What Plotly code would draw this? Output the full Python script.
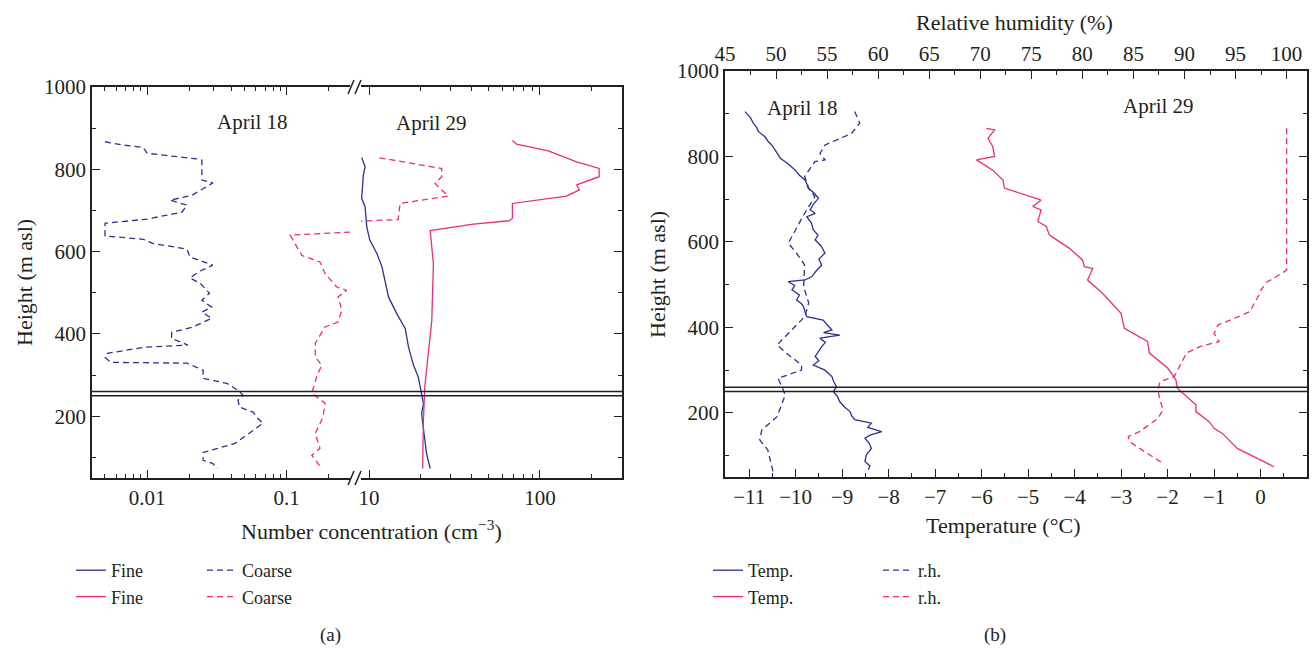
import plotly.graph_objects as go

# ---------------- data ----------------
# Panel (a): number concentration profiles (height in m asl)
coarse18_h = [867, 859, 853, 839, 825, 822, 774, 767, 737, 725, 713, 696, 679, 669, 638, 630, 620, 606,
              587, 567, 553, 536, 523, 499, 482, 465, 453, 438, 416, 404, 389, 373, 368, 353, 343, 331,
              329, 312, 292, 280, 263, 251, 239, 222, 210, 195, 183, 158, 134, 112, 93, 85, 73]
coarse18_v = [0.0050, 0.0067, 0.0094, 0.0100, 0.0230, 0.0247, 0.0247, 0.0296, 0.0210, 0.0146, 0.0193,
              0.0178, 0.0100, 0.0050, 0.0050, 0.0094, 0.0110, 0.0193, 0.0203, 0.0296, 0.0240, 0.0203,
              0.0240, 0.0280, 0.0247, 0.0290, 0.0247, 0.0290, 0.0210, 0.0150, 0.0150, 0.0196, 0.0097,
              0.0052, 0.0050, 0.0055, 0.0193, 0.0252, 0.0252, 0.0373, 0.0448, 0.0487, 0.0448, 0.0460,
              0.0574, 0.0620, 0.0676, 0.0530, 0.0426, 0.0252, 0.0252, 0.0296, 0.0320]

coarse29_h = [828, 802, 782, 766, 754, 735, 719, 717, 678, 640, 591, 575, 547, 514, 506, 490, 458, 429,
              417, 377, 344, 324, 296, 256, 232, 198, 158, 122, 105, 73]
coarse29_v = [11.5, 26.6, 26.6, 24.3, 26.0, 29.1, 16.2, 15.2, 14.8, 0.106, 0.128, 0.173, 0.188, 0.228,
              0.269, 0.233, 0.248, 0.233, 0.188, 0.160, 0.160, 0.178, 0.164, 0.151, 0.188, 0.182, 0.160,
              0.173, 0.151, 0.178]

fine18_h = [829, 806, 786, 729, 709, 660, 628, 596, 563, 531, 490, 450, 413, 369, 324, 296, 255, 231,
            206, 142, 109, 73]
fine18_v = [9.06, 9.48, 9.26, 9.06, 9.48, 9.70, 10.1, 11.1, 11.9, 12.4, 13.0, 14.5, 16.3, 17.0, 18.2,
            19.4, 20.3, 20.8, 20.3, 21.2, 21.7, 22.8]

fine29_h = [870, 861, 845, 818, 802, 782, 762, 750, 735, 717, 681, 675, 667, 651, 571, 433, 352, 271,
            190, 73]
fine29_v = [69, 73, 112, 164, 222, 222, 164, 170, 143, 69, 69, 66, 40.8, 22.8, 23.8, 23.3, 22.2, 21.2,
            20.8, 20.6]

# Panel (b): temperature and relative humidity profiles
temp18_h = [905, 892, 878, 868, 858, 846, 835, 825, 815, 805, 796, 782, 768, 756, 745, 736, 726, 714,
            702, 688, 675, 667, 659, 644, 628, 616, 605, 590, 574, 560, 546, 532, 519, 511, 507, 498,
            488, 476, 464, 456, 449, 437, 425, 417, 405, 394, 388, 382, 375, 365, 355, 343, 332, 322,
            312, 300, 285, 273, 261, 250, 238, 226, 214, 203, 194, 184, 176, 166, 156, 148, 141, 129,
            117, 102, 86, 76, 67]
temp18_v = [-11.09, -10.98, -10.91, -10.84, -10.80, -10.66, -10.59, -10.50, -10.44, -10.38, -10.33,
            -10.15, -10.01, -9.92, -9.80, -9.76, -9.73, -9.60, -9.51, -9.62, -9.69, -9.58, -9.76, -9.66,
            -9.62, -9.52, -9.58, -9.45, -9.37, -9.50, -9.44, -9.56, -9.65, -9.80, -10.16, -10.02, -10.08,
            -9.92, -9.98, -9.88, -9.83, -9.80, -9.76, -9.41, -9.30, -9.22, -9.40, -9.05, -9.48, -9.36,
            -9.44, -9.52, -9.58, -9.50, -9.62, -9.37, -9.22, -9.18, -9.12, -9.19, -9.10, -9.05, -8.95,
            -8.83, -8.80, -8.73, -8.37, -8.45, -8.15, -8.40, -8.51, -8.42, -8.37, -8.48, -8.51, -8.40,
            -8.44]

rh18_h = [905, 878, 854, 827, 807, 792, 788, 753, 726, 706, 663, 597, 574, 546, 495, 457, 425, 394,
          359, 340, 312, 300, 281, 254, 242, 191, 160, 137, 113, 63]
rh18_v = [57.7, 58.2, 57.4, 54.8, 54.3, 54.8, 53.8, 52.8, 53.2, 53.8, 52.7, 51.2, 52.0, 52.8, 52.7,
          53.2, 52.8, 51.5, 50.1, 51.0, 52.5, 52.5, 50.2, 50.7, 50.9, 50.1, 48.6, 48.4, 49.2, 49.7]

temp29_h = [866, 862, 843, 823, 800, 792, 768, 745, 726, 698, 683, 675, 648, 636, 616, 585, 558, 542,
            538, 511, 480, 433, 398, 382, 367, 340, 320, 305, 289, 277, 258, 219, 203, 180, 164, 152,
            117, 74]
temp29_v = [-5.90, -5.72, -5.86, -5.76, -5.72, -6.11, -5.76, -5.54, -5.51, -4.72, -4.90, -4.72, -4.79,
            -4.61, -4.54, -4.11, -3.83, -3.79, -3.61, -3.72, -3.40, -3.00, -2.93, -2.68, -2.43, -2.39,
            -2.18, -2.00, -1.89, -1.82, -1.79, -1.39, -1.39, -1.11, -1.00, -0.82, -0.50, 0.29]

rh29_h = [866, 534, 519, 505, 488, 476, 437, 421, 406, 386, 367, 355, 340, 308, 285, 273, 254, 230,
          207, 187, 156, 145, 133, 106, 82]
rh29_v = [100, 100, 99.0, 98.0, 97.5, 97.3, 96.4, 94.9, 93.3, 92.9, 93.4, 91.5, 90.2, 89.5, 89.0, 87.6,
          87.4, 87.6, 87.9, 87.4, 85.6, 84.5, 84.6, 86.3, 87.9]

layer_h = [250, 260]  # double reference lines

# ---------------- style ----------------
W, H = 1312, 649
def fx(px): return px / W
def fy(py): return 1 - py / H

BLUE = "#2B3190"
PINK = "#EC2A7F"
INK = "#231F20"
FONT = "Liberation Serif"
LW = 1.3
DASH = "6px,4px"

fig = go.Figure()

# split April 29 coarse series across the broken axis (bridge points shared)
split = next(i for i, v in enumerate(coarse29_v) if v < 1)
c29r_h, c29r_v = coarse29_h[:split + 1], coarse29_v[:split + 1]
c29l_h, c29l_v = coarse29_h[split - 1:], coarse29_v[split - 1:]

# Panel (a) traces
fig.add_trace(go.Scatter(x=fine18_v, y=fine18_h, mode="lines", name="Fine",
                         line=dict(color=BLUE, width=LW), xaxis="x2", yaxis="y3", legend="legend"))
fig.add_trace(go.Scatter(x=fine29_v, y=fine29_h, mode="lines", name="Fine",
                         line=dict(color=PINK, width=LW), xaxis="x2", yaxis="y3", legend="legend"))
fig.add_trace(go.Scatter(x=coarse18_v, y=coarse18_h, mode="lines", name="Coarse",
                         line=dict(color=BLUE, width=LW, dash=DASH), xaxis="x", yaxis="y", legend="legend2"))
fig.add_trace(go.Scatter(x=c29l_v, y=c29l_h, mode="lines", name="Coarse",
                         line=dict(color=PINK, width=LW, dash=DASH), xaxis="x", yaxis="y", legend="legend2"))
fig.add_trace(go.Scatter(x=c29r_v, y=c29r_h, mode="lines", name="Coarse", showlegend=False,
                         line=dict(color=PINK, width=LW, dash=DASH), xaxis="x2", yaxis="y3"))

# Panel (b) traces
fig.add_trace(go.Scatter(x=temp18_v, y=temp18_h, mode="lines", name="Temp.",
                         line=dict(color=BLUE, width=LW), xaxis="x3", yaxis="y2", legend="legend3"))
fig.add_trace(go.Scatter(x=temp29_v, y=temp29_h, mode="lines", name="Temp.",
                         line=dict(color=PINK, width=LW), xaxis="x3", yaxis="y2", legend="legend3"))
fig.add_trace(go.Scatter(x=rh18_v, y=rh18_h, mode="lines", name="r.h.",
                         line=dict(color=BLUE, width=LW, dash=DASH), xaxis="x4", yaxis="y2", legend="legend4"))
fig.add_trace(go.Scatter(x=rh29_v, y=rh29_h, mode="lines", name="r.h.",
                         line=dict(color=PINK, width=LW, dash=DASH), xaxis="x4", yaxis="y2", legend="legend4"))

tickfont = dict(family=FONT, size=21, color=INK)
def minor_log(lo, hi):
    return [m * 10.0 ** e for e in range(lo, hi) for m in range(2, 10)]

common = dict(showline=True, linecolor=INK, linewidth=1.5, ticks="inside", ticklen=8, tickwidth=1.2,
              tickcolor=INK, showgrid=False, zeroline=False, tickfont=tickfont, automargin=False)
minor_lin = dict(ticks="inside", ticklen=4, tickwidth=1.2, tickcolor=INK, showgrid=False)

layout = dict(
    width=W, height=H, margin=dict(l=0, r=0, t=0, b=0),
    paper_bgcolor="white", plot_bgcolor="rgba(0,0,0,0)",
    font=dict(family=FONT, color=INK, size=21),
    xaxis=dict(common, type="log", domain=[fx(92), fx(350)], range=[-2.394, -0.547], anchor="y",
               mirror="ticks", tickmode="array", tickvals=[0.01, 0.1], ticktext=["0.01", "0.1"],
               minor=dict(minor_lin, tickmode="array", tickvals=minor_log(-3, 0))),
    xaxis2=dict(common, type="log", domain=[fx(361), fx(622)], range=[0.953, 2.48], anchor="y3",
                mirror="ticks", tickmode="array", tickvals=[10, 100], ticktext=["10", "100"],
                minor=dict(minor_lin, tickmode="array", tickvals=minor_log(0, 3))),
    yaxis=dict(common, domain=[fy(478), fy(87)], range=[50, 1000], anchor="x", tick0=0, dtick=200,
               minor=dict(minor_lin, dtick=100, tick0=0)),
    yaxis3=dict(common, domain=[fy(478), fy(87)], range=[50, 1000], anchor="x2", side="right",
                matches="y", showticklabels=False, tick0=0, dtick=200,
                minor=dict(minor_lin, dtick=100, tick0=0)),
    xaxis3=dict(common, domain=[fx(725), fx(1307)], range=[-11.52, 1.0], anchor="y2", tick0=0, dtick=1,
                minor=dict(minor_lin, dtick=0.5, tick0=0)),
    xaxis4=dict(common, overlaying="x3", side="top", range=[45, 102], anchor="y2", tick0=0, dtick=5,
                minor=dict(minor_lin, dtick=2.5, tick0=0)),
    yaxis2=dict(common, domain=[fy(477), fy(71)], range=[50, 1000], anchor="x3", mirror="ticks",
                tick0=0, dtick=200, minor=dict(minor_lin, dtick=100, tick0=0)),
    showlegend=True,
)
legfont = dict(family=FONT, size=18, color=INK)
for name, px in [("legend", 71), ("legend2", 202), ("legend3", 708), ("legend4", 878)]:
    layout[name] = dict(x=fx(px), y=fy(552), xanchor="left", yanchor="top", font=legfont,
                        bgcolor="rgba(0,0,0,0)", tracegroupgap=0, itemwidth=30, orientation="v")
fig.update_layout(**layout)

# reference layer lines
shapes = []
for h in layer_h:
    shapes.append(dict(type="line", xref="paper", yref="y", x0=fx(92), x1=fx(622), y0=h, y1=h,
                       line=dict(color=INK, width=1.6)))
    shapes.append(dict(type="line", xref="paper", yref="y2", x0=fx(725), x1=fx(1307), y0=h, y1=h,
                       line=dict(color=INK, width=1.6)))
# axis break marks
for yc in (87, 478):
    for x0 in (348, 355):
        shapes.append(dict(type="line", xref="paper", yref="paper", x0=fx(x0), x1=fx(x0 + 6),
                           y0=fy(yc + 7), y1=fy(yc - 7), line=dict(color=INK, width=1.5)))
fig.update_layout(shapes=shapes)

def ann(text, px, py, size=21, angle=0):
    fig.add_annotation(text=text, x=fx(px), y=fy(py), xref="paper", yref="paper", showarrow=False,
                       xanchor="center", yanchor="middle", textangle=angle,
                       font=dict(family=FONT, size=size, color=INK))

ann("April 18", 252, 122)
ann("April 29", 431, 123)
ann("April 18", 802, 108)
ann("April 29", 1158, 106)
ann("Height (m asl)", 24, 283, size=22, angle=-90)
ann("Height (m asl)", 658, 274, size=22, angle=-90)
ann("Number concentration (cm<sup>−3</sup>)", 372, 530, size=22)
ann("Temperature (°C)", 1003, 525, size=22)
ann("Relative humidity (%)", 1014, 22, size=22)
ann("(a)", 330, 635, size=19)
ann("(b)", 995, 635, size=19)

fig.write_html("out.html")
